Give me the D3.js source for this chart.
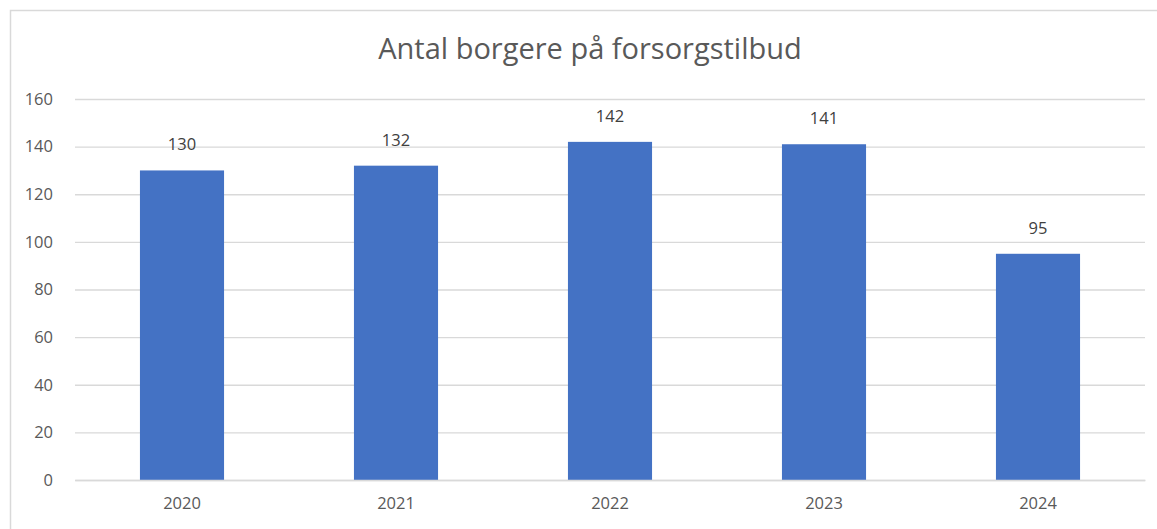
<!DOCTYPE html>
<html><head><meta charset="utf-8">
<script src="https://cdn.jsdelivr.net/npm/d3@7"></script>
<style>body{margin:0;background:#fff}svg{display:block}text{font-family:"Open Sans",Lato,sans-serif}</style>
</head><body><svg id="c" width="1157" height="529"></svg>
<script>
const categories = ["2020","2021","2022","2023","2024"];
const values = [130,132,142,141,95];
const yTicks = [0,20,40,60,80,100,120,140,160];
const title = "Antal borgere på forsorgstilbud";

const svg = d3.select("#c");
const m = {left:75, right:1145, top:99, bottom:480};
svg.append("path").attr("d","M10.5,529 V10.5 H1157").attr("fill","none").attr("stroke","#d9d9d9").attr("stroke-width",1.5);

const x = d3.scaleBand().domain(categories).range([m.left,m.right]).paddingInner(0.607).paddingOuter(0.3035);
const y = d3.scaleLinear().domain([0,160]).range([m.bottom,m.top]);

const ya = svg.append("g").attr("transform",`translate(${m.left},0)`)
  .call(d3.axisLeft(y).tickValues(yTicks).tickSize(-(m.right-m.left)).tickPadding(22));
ya.select(".domain").remove();
ya.selectAll(".tick line").attr("stroke","#d9d9d9").attr("stroke-width",1.3);
ya.selectAll(".tick text").attr("fill","#595959").style("font-size","16.5px");

svg.append("g").selectAll("rect").data(values).join("rect")
  .attr("x",(d,i)=>x(categories[i])).attr("width",x.bandwidth())
  .attr("y",d=>y(d)).attr("height",d=>y(0)-y(d)).attr("fill","#4472C4");

const xa = svg.append("g").attr("transform",`translate(0,${m.bottom})`)
  .call(d3.axisBottom(x).tickSize(0).tickPadding(17));
xa.select(".domain").attr("stroke","#d9d9d9").attr("stroke-width",1.3);
xa.selectAll(".tick text").attr("fill","#595959").style("font-size","16.5px");

svg.append("g").selectAll("text").data(values).join("text")
  .attr("x",(d,i)=>x(categories[i])+x.bandwidth()/2).attr("y",d=>y(d)-20)
  .attr("text-anchor","middle").attr("fill","#404040").style("font-size","16.5px").text(d=>d);

svg.append("text").attr("x",590).attr("y",59).attr("text-anchor","middle")
  .attr("fill","#595959").style("font-size","29px").text(title);
</script></body></html>
